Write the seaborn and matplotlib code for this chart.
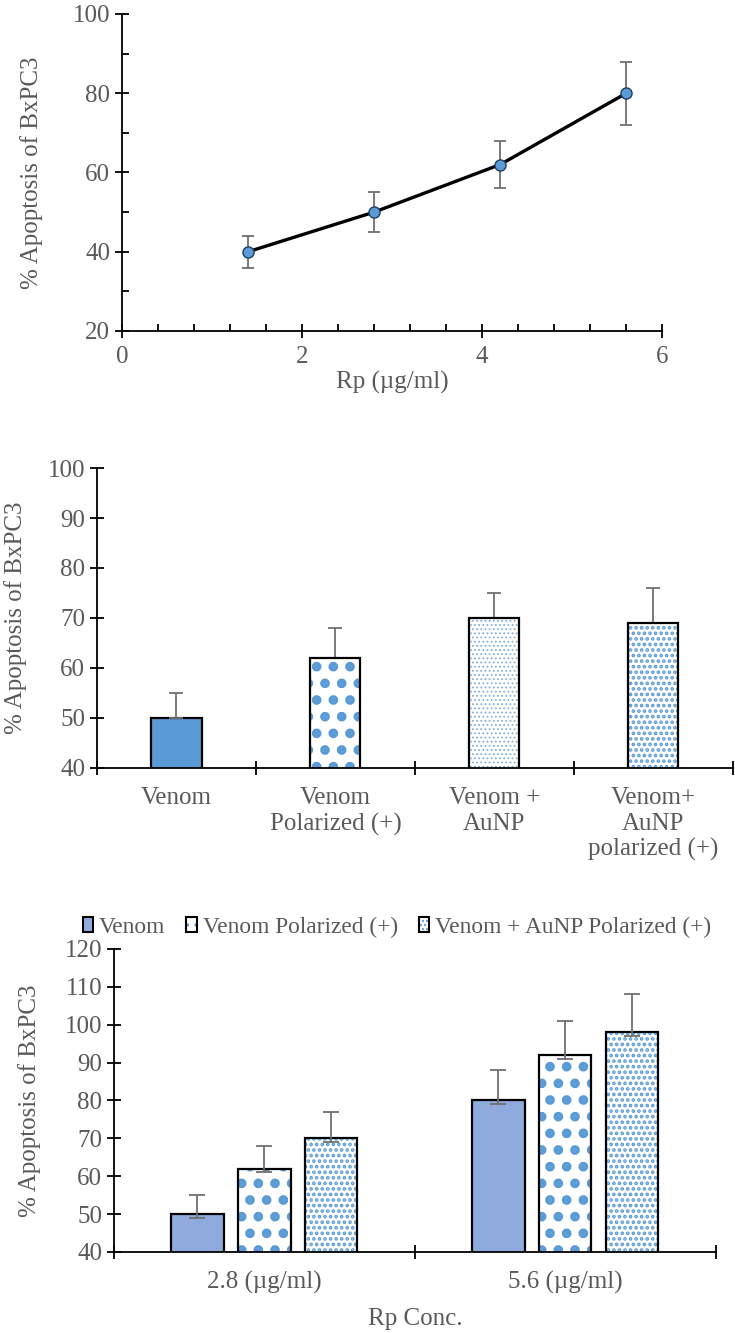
import pandas as pd
import seaborn as sns
import matplotlib.pyplot as plt
from matplotlib.patches import Patch, Rectangle
from matplotlib.ticker import MultipleLocator, FixedLocator

# --- datos gráfico 1 (línea)
rp_conc = [1.4, 2.8, 4.2, 5.6]
apop_line = [40, 50, 62, 80]
apop_line_err = [4, 5, 6, 8]

# --- datos gráfico 2 (barras por tratamiento)
treatments = ["Venom", "Venom\nPolarized (+)", "Venom +\nAuNP", "Venom+\nAuNP\npolarized (+)"]
apop_treat = [50, 62, 70, 69]
apop_treat_err = [5, 6, 5, 7]

# --- datos gráfico 3 (barras agrupadas)
conc_labels = ["2.8 (µg/ml)", "5.6 (µg/ml)"]
groups = ["Venom", "Venom Polarized (+)", "Venom + AuNP Polarized (+)"]
apop_venom = [50, 80]
apop_venom_pol = [62, 92]
apop_aunp_pol = [70, 98]
err_up_venom = [5, 8]
err_up_venom_pol = [6, 9]
err_up_aunp_pol = [7, 10]
err_down = [1, 1]

sns.set_theme(style="ticks")
plt.rcParams['font.family'] = ['Liberation Serif', 'DejaVu Serif']

GREY = '#595959'
ERR = '#6f6f6f'
BLUE = '#5B9BD5'
LBLUE = '#8FAADC'
FS = 18

fig = plt.figure(figsize=(7.35, 13.33), dpi=100)


def style_axes(ax):
    for s in ['top', 'right']:
        ax.spines[s].set_visible(False)
    for s in ['left', 'bottom']:
        ax.spines[s].set_color('black')
        ax.spines[s].set_linewidth(1.3)
    ax.tick_params(which='major', direction='inout', length=10, width=1.3,
                   color='black', labelcolor=GREY, labelsize=FS)
    ax.tick_params(which='minor', direction='in', length=5, width=1.3, color='black')


def hatch_bar(ax, patch, hatch, color, lw):
    # relleno con patrón en azul y contorno negro encima
    patch.set_facecolor('white')
    patch.set_edgecolor(color)
    patch.set_hatch(hatch)
    patch.set_linewidth(0)
    if hasattr(patch, 'set_hatch_linewidth'):
        patch.set_hatch_linewidth(lw)
    ax.add_patch(Rectangle((patch.get_x(), patch.get_y()), patch.get_width(), patch.get_height(),
                           fill=False, edgecolor='black', linewidth=1.6, zorder=3))


# ================= gráfico 1
ax1 = fig.add_axes([0.166, 0.7517, 0.735, 0.2378])
df1 = pd.DataFrame({'rp': rp_conc, 'apop': apop_line})
ax1.errorbar(rp_conc, apop_line, yerr=apop_line_err, fmt='none', ecolor=ERR,
             elinewidth=1.3, capsize=4, capthick=1.3, zorder=2)
sns.lineplot(data=df1, x='rp', y='apop', ax=ax1, color='black', linewidth=2.4,
             marker='o', markersize=8, markerfacecolor=BLUE, markeredgecolor='#1f3f60',
             markeredgewidth=1, zorder=3)
ax1.set_xlim(0, 6)
ax1.set_ylim(20, 100)
ax1.xaxis.set_major_locator(MultipleLocator(2))
ax1.xaxis.set_minor_locator(MultipleLocator(0.4))
ax1.yaxis.set_major_locator(MultipleLocator(20))
ax1.yaxis.set_minor_locator(MultipleLocator(10))
style_axes(ax1)
ax1.tick_params(axis='x', which='major', pad=6)
ax1.set_xlabel('Rp (µg/ml)', fontsize=FS, color=GREY)
ax1.set_ylabel('% Apoptosis of BxPC3', fontsize=FS, color=GREY)
ax1.xaxis.set_label_coords(0.5, -0.126)
ax1.yaxis.set_label_coords(-0.146, 0.5)

# ================= gráfico 2
ax2 = fig.add_axes([0.132, 0.4239, 0.865, 0.225])
df2 = pd.DataFrame({'trat': treatments, 'apop': apop_treat})
sns.barplot(data=df2, x='trat', y='apop', ax=ax2, width=0.315, errorbar=None,
            color=BLUE, edgecolor='black', linewidth=1.6, saturation=1)
bars2 = list(ax2.patches)
ax2.errorbar(range(len(treatments)), apop_treat,
             yerr=[[0] * len(treatments), apop_treat_err], fmt='none', ecolor=ERR,
             elinewidth=1.3, capsize=5, capthick=1.3, zorder=1)
hatch_bar(ax2, bars2[1], '.', BLUE, 4.5)
hatch_bar(ax2, bars2[2], '....', '#7fb0e0', 0.8)
hatch_bar(ax2, bars2[3], '...', BLUE, 1.8)
ax2.set_ylim(40, 100)
ax2.set_xlim(-0.5, len(treatments) - 0.5)
ax2.yaxis.set_major_locator(MultipleLocator(10))
ax2.xaxis.set_major_locator(FixedLocator([i - 0.5 for i in range(len(treatments) + 1)]))
ax2.xaxis.set_minor_locator(FixedLocator(range(len(treatments))))
style_axes(ax2)
ax2.set_xticklabels([])
ax2.set_xticklabels(treatments, minor=True, fontsize=FS, color=GREY, linespacing=1.2)
ax2.tick_params(axis='x', which='minor', length=0, pad=14, labelcolor=GREY)
ax2.set_xlabel('')
ax2.set_ylabel('% Apoptosis of BxPC3', fontsize=FS, color=GREY)
ax2.yaxis.set_label_coords(-0.11, 0.5)

# ================= gráfico 3
ax3 = fig.add_axes([0.155, 0.0608, 0.819, 0.2273])
df3 = pd.DataFrame({
    'conc': conc_labels * 3,
    'grupo': [groups[0]] * 2 + [groups[1]] * 2 + [groups[2]] * 2,
    'apop': apop_venom + apop_venom_pol + apop_aunp_pol,
})
sns.barplot(data=df3, x='conc', y='apop', hue='grupo', ax=ax3, width=0.667, gap=0.22,
            errorbar=None, palette=[LBLUE, 'white', 'white'], edgecolor='black',
            linewidth=1.6, saturation=1, legend=False)
ups = [err_up_venom, err_up_venom_pol, err_up_aunp_pol]
bar_conts = list(ax3.containers)
for i, cont in enumerate(bar_conts):
    xs = [b.get_x() + b.get_width() / 2 for b in cont]
    ys = [b.get_height() for b in cont]
    ax3.errorbar(xs, ys, yerr=[err_down, ups[i]], fmt='none', ecolor=ERR,
                 elinewidth=1.3, capsize=6, capthick=1.3, zorder=4)
    if i == 1:
        for b in cont:
            hatch_bar(ax3, b, '.', BLUE, 4.5)
    elif i == 2:
        for b in cont:
            hatch_bar(ax3, b, '...', BLUE, 1.8)
ax3.set_ylim(40, 120)
ax3.set_xlim(-0.5, len(conc_labels) - 0.5)
ax3.yaxis.set_major_locator(MultipleLocator(10))
ax3.xaxis.set_major_locator(FixedLocator([i - 0.5 for i in range(len(conc_labels) + 1)]))
ax3.xaxis.set_minor_locator(FixedLocator(range(len(conc_labels))))
style_axes(ax3)
ax3.set_xticklabels([])
ax3.set_xticklabels(conc_labels, minor=True, fontsize=FS, color=GREY)
ax3.tick_params(axis='x', which='minor', length=0, pad=14, labelcolor=GREY)
ax3.set_xlabel('Rp Conc.', fontsize=FS, color=GREY)
ax3.set_ylabel('% Apoptosis of BxPC3', fontsize=FS, color=GREY)
ax3.xaxis.set_label_coords(0.5, -0.185)
ax3.yaxis.set_label_coords(-0.121, 0.5)

# leyenda: patrón azul + borde negro superpuestos
def leg_handle(hatch, face):
    fill = Patch(facecolor=face, edgecolor=BLUE if hatch else face, hatch=hatch, linewidth=0)
    edge = Patch(facecolor='none', edgecolor='black', linewidth=1.5)
    return (fill, edge)


handles = [leg_handle(None, LBLUE), leg_handle('..', 'white'), leg_handle('....', 'white')]
leg = fig.legend(handles, groups, loc='center', bbox_to_anchor=(0.54, 0.3046), ncol=3,
                 frameon=False, fontsize=16.8, handlelength=0.45, handleheight=0.6,
                 handletextpad=0.25, columnspacing=0.9, labelcolor=GREY,
                 borderpad=0, borderaxespad=0)

fig.savefig('out.png', dpi=100)
